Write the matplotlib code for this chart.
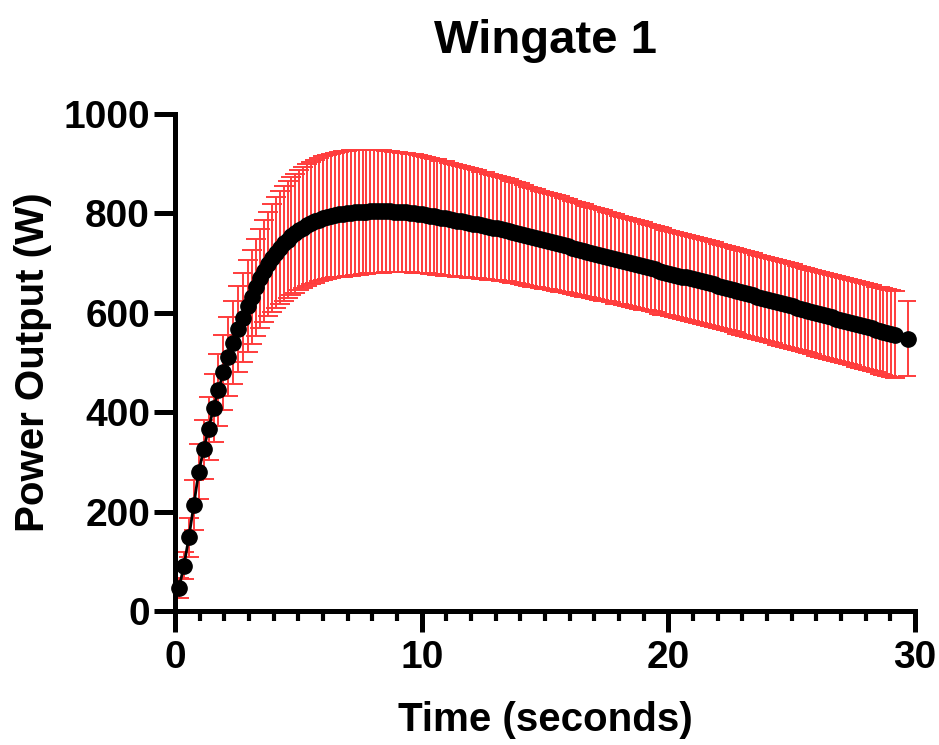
import matplotlib
matplotlib.use("Agg")
import matplotlib.pyplot as plt
from matplotlib.ticker import MultipleLocator

plt.rcParams["font.family"] = ["Liberation Sans", "DejaVu Sans"]
plt.rcParams["font.weight"] = "bold"

title = "Wingate 1"
x_label = "Time (seconds)"
y_label = "Power Output (W)"

# Time of each sample (s)
time_s = [
    0.16, 0.36, 0.56, 0.76, 0.96, 1.16, 1.36, 1.56, 1.76, 1.96, 2.16, 2.36, 2.56, 2.76, 2.96,
    3.12, 3.28, 3.44, 3.60, 3.76, 3.92, 4.08, 4.24, 4.40, 4.56,
    4.72, 4.88, 5.04, 5.20, 5.36, 5.52, 5.68, 5.84, 6.00, 6.16,
    6.32, 6.48, 6.64, 6.80, 6.96, 7.12, 7.28, 7.44, 7.60, 7.76,
    7.92, 8.08, 8.24, 8.40, 8.56, 8.72, 8.88, 9.04, 9.20, 9.36,
    9.52, 9.68, 9.84, 10.00, 10.16, 10.32, 10.48, 10.64, 10.80, 10.96,
    11.12, 11.28, 11.44, 11.60, 11.76, 11.92, 12.08, 12.24, 12.40, 12.56,
    12.72, 12.88, 13.04, 13.20, 13.36, 13.52, 13.68, 13.84, 14.00, 14.16,
    14.32, 14.48, 14.64, 14.80, 14.96, 15.12, 15.28, 15.44, 15.60, 15.76,
    15.92, 16.08, 16.24, 16.40, 16.56, 16.72, 16.88, 17.04, 17.20, 17.36,
    17.52, 17.68, 17.84, 18.00, 18.16, 18.32, 18.48, 18.64, 18.80, 18.96,
    19.12, 19.28, 19.44, 19.60, 19.76, 19.92, 20.08, 20.24, 20.40, 20.56,
    20.72, 20.88, 21.04, 21.20, 21.36, 21.52, 21.68, 21.84, 22.00, 22.16,
    22.32, 22.48, 22.64, 22.80, 22.96, 23.12, 23.28, 23.44, 23.60, 23.76,
    23.92, 24.08, 24.24, 24.40, 24.56, 24.72, 24.88, 25.04, 25.20, 25.36,
    25.52, 25.68, 25.84, 26.00, 26.16, 26.32, 26.48, 26.64, 26.80, 26.96,
    27.12, 27.28, 27.44, 27.60, 27.76, 27.92, 28.08, 28.24, 28.40, 28.56,
    28.72, 28.88, 29.04, 29.20,
    29.70,
]

# Mean power output (W)
power_mean = [
    46, 91, 148, 213, 280, 325, 367, 408, 445, 480, 512, 540, 567, 590, 614,
    632, 651, 669, 684, 698, 710, 721, 731, 740, 747,
    754, 760, 766, 771, 776, 780, 784, 787, 790, 792,
    794, 796, 798, 799, 800, 801, 802, 802, 803, 803,
    804, 804, 804, 804, 804, 804, 803, 803, 802, 802,
    801, 800, 799, 798, 797, 795, 794, 793, 791, 790,
    788, 787, 785, 784, 782, 781, 779, 778, 776, 775,
    773, 771, 770, 769, 767, 765, 763, 761, 759, 757,
    754, 752, 750, 748, 746, 744, 742, 740, 738, 736,
    734, 731, 729, 727, 725, 723, 721, 719, 717, 715,
    713, 711, 708, 706, 704, 702, 700, 698, 696, 694,
    692, 690, 688, 685, 683, 681, 679, 677, 675, 673,
    671, 669, 667, 665, 663, 661, 659, 657, 654, 652,
    650, 648, 646, 643, 641, 639, 637, 635, 632, 630,
    628, 626, 624, 621, 619, 617, 615, 613, 610, 608,
    606, 604, 602, 599, 597, 595, 593, 591, 588, 586,
    584, 582, 580, 577, 575, 573, 571, 569, 566, 564,
    562, 560, 558, 556,
    548,
]

# Standard deviation of power output (W)
power_sd = [
    20, 27, 40, 50, 55, 60, 64, 68, 72, 76, 80, 84, 87, 90, 93,
    95, 97, 99, 102, 105, 108, 111, 114, 116, 118,
    119, 120, 121, 122, 123, 123, 124, 124, 125, 125,
    125, 125, 126, 126, 126, 126, 126, 125, 125, 125,
    124, 124, 123, 123, 122, 122, 121, 121, 120, 120,
    119, 119, 118, 118, 117, 117, 116, 116, 115, 115,
    114, 113, 113, 112, 111, 111, 110, 109, 108, 108,
    107, 106, 105, 105, 104, 104, 103, 102, 102, 101,
    100, 100, 99, 98, 98, 97, 97, 96, 96, 95,
    95, 94, 94, 93, 93, 92, 92, 91, 91, 91,
    90, 90, 90, 89, 89, 89, 88, 88, 88, 88,
    87, 87, 87, 87, 87, 86, 86, 86, 86, 86,
    86, 86, 86, 86, 86, 86, 86, 86, 85, 85,
    85, 85, 85, 85, 85, 85, 85, 85, 85, 85,
    85, 85, 85, 85, 85, 85, 85, 85, 85, 85,
    85, 85, 85, 85, 85, 86, 86, 86, 86, 86,
    86, 86, 86, 86, 86, 86, 86, 86, 86, 87,
    87, 87, 87, 87,
    76,
]

x_ticks = [0, 10, 20, 30]
y_ticks = [0, 200, 400, 600, 800, 1000]

fig = plt.figure(figsize=(9.39, 7.45), dpi=100)
ax = fig.add_axes([0.1864, 0.1799, 0.7881, 0.6671])

ax.errorbar(time_s, power_mean, yerr=power_sd, fmt="none",
            ecolor="#FF3C3C", elinewidth=1.4, capsize=7.5, capthick=1.4,
            zorder=2)
ax.plot(time_s, power_mean, color="black", linewidth=2.0, marker="o",
        markersize=11, markerfacecolor="black", markeredgecolor="black",
        zorder=3, clip_on=False)

ax.set_xlim(0, 30)
ax.set_ylim(0, 1000)
ax.set_xticks(x_ticks)
ax.set_yticks(y_ticks)
ax.xaxis.set_minor_locator(MultipleLocator(1))

for side in ("top", "right"):
    ax.spines[side].set_visible(False)
for side in ("left", "bottom"):
    ax.spines[side].set_linewidth(3.6)
    ax.spines[side].set_color("black")

ax.tick_params(axis="both", which="major", length=15, width=3.6,
               labelsize=28, color="black")
ax.tick_params(axis="x", which="major", pad=6)
ax.tick_params(axis="y", which="major", pad=3)
ax.tick_params(axis="x", which="minor", length=7.5, width=3.0, color="black")
for lab in ax.get_xticklabels() + ax.get_yticklabels():
    lab.set_fontweight("bold")

ax.set_xlabel(x_label, fontsize=29, fontweight="bold", labelpad=18)
ax.set_ylabel(y_label, fontsize=29, fontweight="bold", labelpad=8)
ax.set_title(title, fontsize=34, fontweight="bold", pad=44)

fig.savefig("out.png", dpi=100, facecolor="white")
